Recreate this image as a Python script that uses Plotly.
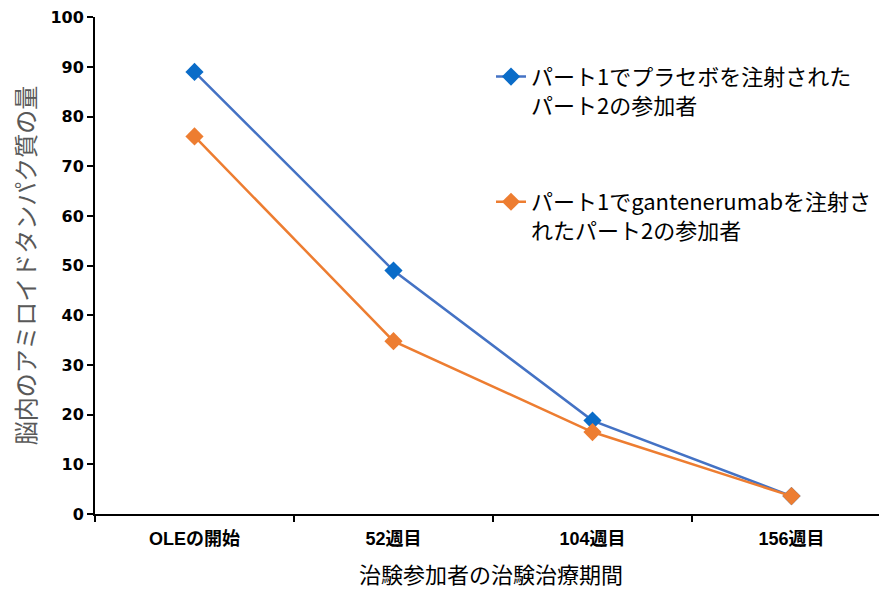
import plotly.graph_objects as go

categories = ["OLEの開始", "52週目", "104週目", "156週目"]
placebo_values = [89, 49, 18.8, 3.6]
gantenerumab_values = [76, 34.8, 16.5, 3.6]
placebo_name = "パート1でプラセボを注射された<br>パート2の参加者"
gant_name = "パート1でgantenerumabを注射さ<br>れたパート2の参加者"
y_ticks = list(range(0, 101, 10))

FONT = "Liberation Sans, Arial, Noto Sans CJK JP, sans-serif"
WIDE = "DejaVu Sans, Liberation Sans, Noto Sans CJK JP, sans-serif"

fig = go.Figure()
fig.add_trace(go.Scatter(
    x=categories, y=placebo_values, name=placebo_name, mode="lines+markers",
    line=dict(color="#4472C4", width=2.5),
    marker=dict(symbol="diamond", size=14, color="#0A6CC8"),
    legendgroup="a",
))
fig.add_trace(go.Scatter(
    x=categories, y=gantenerumab_values, name=gant_name, mode="lines+markers",
    line=dict(color="#ED7D31", width=2.5),
    marker=dict(symbol="diamond", size=14, color="#ED7D31"),
    legendgroup="b",
))

fig.update_layout(
    width=879, height=583,
    margin=dict(l=87, r=0, t=9, b=77),
    plot_bgcolor="white", paper_bgcolor="white",
    font=dict(family=FONT, color="#000000"),
    showlegend=True,
    legend=dict(
        x=0.5, y=0.922, xanchor="left", yanchor="top",
        font=dict(size=22, color="#000000", family="Noto Sans CJK JP, Liberation Sans"),
        valign="top", tracegroupgap=65, bgcolor="rgba(0,0,0,0)",
        itemwidth=30,
    ),
    xaxis=dict(
        type="category", range=[-0.5, 3.48],
        showline=True, linecolor="#000000", linewidth=2,
        ticks="outside", ticklen=6, tickwidth=2, tickcolor="#000000",
        tickson="boundaries", showgrid=False, zeroline=False,
        ticklabelstandoff=7,
        tickfont=dict(size=18, color="#000000", family=FONT, weight="bold"),
        title=dict(text="治験参加者の治験治療期間", font=dict(size=22, color="#000000", family=FONT), standoff=20),
    ),
    yaxis=dict(
        range=[0, 100.05], tickvals=y_ticks,
        showline=True, linecolor="#000000", linewidth=2,
        ticks="outside", ticklen=6, tickwidth=2, tickcolor="#000000",
        showgrid=False, zeroline=False, ticklabeloverflow="allow",
        tickfont=dict(size=16, color="#000000", family=WIDE, weight="bold"),
        title=dict(text="脳内のアミロイドタンパク質の量", font=dict(size=24, color="#595959", family=FONT), standoff=8),
    ),
)

fig.write_html("out.html")
